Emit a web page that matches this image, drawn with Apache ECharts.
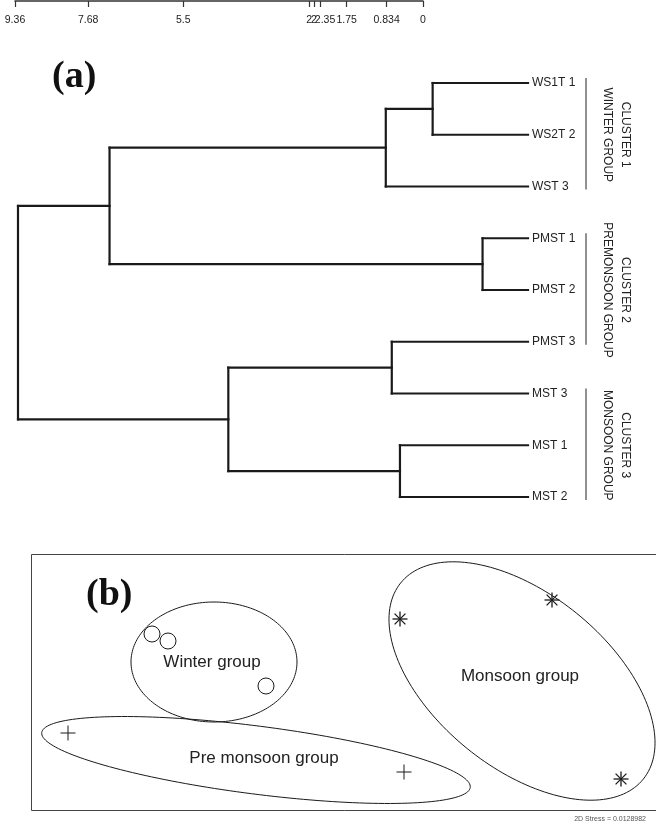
<!DOCTYPE html>
<html>
<head>
<meta charset="utf-8">
<script src="https://cdn.jsdelivr.net/npm/echarts@6/dist/echarts.min.js"></script>
<style>html,body{margin:0;padding:0;background:#fff;}#chart{width:656px;height:827px;}</style>
</head>
<body>
<div id="chart"></div>
<script>
// ---------- Panel (a): dendrogram data ----------
const leaves = ['WS1T 1', 'WS2T 2', 'WST 3', 'PMST 1', 'PMST 2', 'PMST 3', 'MST 3', 'MST 1', 'MST 2'];
const mergeIds    = ['c1', 'c2', 'c3', 'c4', 'c5', 'c6', 'c7', 'c8'];
const mergeLeft   = ['WS1T 1', 'PMST 1', 'MST 1', 'PMST 3', 'c1', 'c4', 'c5', 'c7'];
const mergeRight  = ['WS2T 2', 'PMST 2', 'MST 2', 'MST 3', 'WST 3', 'c3', 'c2', 'c6'];
const mergeHeight = [1.75, 0.834, 2.35, 2.5, 2.61, 5.5, 7.68, 9.36];

const axisTickValues = [9.36, 7.68, 5.5, 2.61, 2.5, 2.35, 1.75, 0.834, 0];
const axisTickLabels = ['9.36', '7.68', '5.5', '2', '2', '2.35', '1.75', '0.834', '0'];

const clusterTitles = ['CLUSTER 1', 'CLUSTER 2', 'CLUSTER 3'];
const clusterNames  = ['WINTER GROUP', 'PREMONSOON GROUP', 'MONSOON GROUP'];
const clusterFirst  = [0, 3, 6];
const clusterLast   = [2, 5, 8];

// ---------- Panel (b): MDS data ----------
const winterX = [1.21, 1.37, 2.35];
const winterY = [1.77, 1.70, 1.25];
const preX = [0.37, 3.73];
const preY = [0.78, 0.39];
const monX = [3.69, 5.21, 5.90];
const monY = [1.92, 2.11, 0.32];

const ellipseCX = [1.83, 2.25, 4.91];
const ellipseCY = [1.49, 0.51, 1.30];
const ellipseA = [0.83, 2.16, 1.56];
const ellipseB = [0.60, 0.34, 0.87];
const ellipseAngle = [0, -7.3, -39];

const groupLabels = ['Winter group', 'Pre monsoon group', 'Monsoon group'];
const groupLabelX = [1.81, 2.33, 4.89];
const groupLabelY = [1.49, 0.53, 1.35];

const stressText = '2D Stress = 0.0128982';

// ---------- build dendrogram segments ----------
const nodePos = {};
leaves.forEach((n, i) => { nodePos[n] = [0, i]; });
const segments = [];
mergeIds.forEach((id, k) => {
  const a = nodePos[mergeLeft[k]], b = nodePos[mergeRight[k]], h = mergeHeight[k];
  segments.push([a[0], a[1], h, a[1]]);
  segments.push([b[0], b[1], h, b[1]]);
  segments.push([h, a[1], h, b[1]]);
  nodePos[id] = [h, (a[1] + b[1]) / 2];
});

const clusterData = clusterTitles.map((t, i) => [clusterFirst[i], clusterLast[i], i]);
const ellipseData = ellipseCX.map((c, i) => [c, ellipseCY[i], ellipseA[i], ellipseB[i], ellipseAngle[i]]);

const LINE = '#1a1a1a';
const SANS = "'Liberation Sans', Arial, sans-serif";

const chart = echarts.init(document.getElementById('chart'), null, {renderer: 'canvas'});

function markerSeries(xs, ys, kind) {
  return {
    type: 'custom', xAxisIndex: 2, yAxisIndex: 2, clip: false, silent: true,
    data: xs.map((x, i) => [x, ys[i]]),
    renderItem: function (params, api) {
      const p = api.coord([api.value(0), api.value(1)]);
      const st = {stroke: LINE, lineWidth: kind === 'star' ? 1.3 : 1, fill: null};
      if (kind === 'circle') {
        return {type: 'circle', shape: {cx: p[0], cy: p[1], r: 8}, style: {stroke: LINE, lineWidth: 1, fill: '#fff'}};
      }
      const r = 7.5;
      const ch = [
        {type: 'line', shape: {x1: p[0] - r, y1: p[1], x2: p[0] + r, y2: p[1]}, style: st},
        {type: 'line', shape: {x1: p[0], y1: p[1] - r, x2: p[0], y2: p[1] + r}, style: st}
      ];
      if (kind === 'star') {
        const d = r * 0.72;
        ch.push({type: 'line', shape: {x1: p[0] - d, y1: p[1] - d, x2: p[0] + d, y2: p[1] + d}, style: st});
        ch.push({type: 'line', shape: {x1: p[0] - d, y1: p[1] + d, x2: p[0] + d, y2: p[1] - d}, style: st});
      }
      return {type: 'group', children: ch};
    }
  };
}

const option = {
  animation: false,
  backgroundColor: '#fff',
  grid: [
    {left: 15, top: 0, width: 408, height: 1, show: false},
    {left: 18, top: 83, width: 510, height: 414, show: false},
    {left: 31, top: 554, width: 625, height: 257, show: false}
  ],
  xAxis: [
    {gridIndex: 0, type: 'value', min: 0, max: 9.36, inverse: true, position: 'bottom',
     axisLine: {show: true, onZero: false, lineStyle: {color: '#333', width: 1.5}},
     axisTick: {show: true, length: 6, customValues: axisTickValues, lineStyle: {color: '#333', width: 1.2}},
     axisLabel: {show: true, customValues: axisTickValues, margin: 14, hideOverlap: false,
       fontFamily: SANS, fontSize: 10.5, color: '#222',
       formatter: function (v) {
         const i = axisTickValues.indexOf(v);
         if (i < 0) return '';
         return i === 5 ? '{s|' + axisTickLabels[i] + '}' : axisTickLabels[i];
       },
       rich: {s: {fontFamily: SANS, fontSize: 10.5, color: '#222', padding: [0, 0, 0, 9]}}},
     splitLine: {show: false}},
    {gridIndex: 1, type: 'value', min: 0, max: 9.36, inverse: true, show: false},
    {gridIndex: 2, type: 'value', min: 0, max: 6.25, show: false}
  ],
  yAxis: [
    {gridIndex: 0, type: 'value', min: 0, max: 1, show: false},
    {gridIndex: 1, type: 'value', min: 0, max: 8, inverse: true, position: 'right',
     axisLine: {show: false}, axisTick: {show: false}, splitLine: {show: false},
     axisLabel: {show: true, customValues: leaves.map((n, i) => i), margin: 4, hideOverlap: false,
       fontFamily: SANS, fontSize: 12, color: '#222',
       formatter: function (v) { return leaves[Math.round(v)] || ''; }}},
    {gridIndex: 2, type: 'value', min: 0, max: 2.57, show: false}
  ],
  graphic: [
    {type: 'polyline', shape: {points: [[700, 554.5], [31.5, 554.5], [31.5, 810.5], [700, 810.5]]},
     style: {stroke: '#444', lineWidth: 1, fill: null}, silent: true},
    {type: 'text', left: 52, top: 58, style: {text: '(a)', font: "bold 38px 'Liberation Serif', 'Times New Roman', serif", fill: '#111'}},
    {type: 'text', left: 86, top: 576, style: {text: '(b)', font: "bold 38px 'Liberation Serif', 'Times New Roman', serif", fill: '#111'}},
    {type: 'text', right: 10, top: 816, style: {text: stressText, font: "7px " + SANS, fill: '#555'}}
  ],
  series: [
    {
      type: 'custom', xAxisIndex: 1, yAxisIndex: 1, clip: false, silent: true,
      data: segments,
      renderItem: function (params, api) {
        const p1 = api.coord([api.value(0), api.value(1)]);
        const p2 = api.coord([api.value(2), api.value(3)]);
        return {type: 'line', shape: {x1: p1[0], y1: p1[1], x2: p2[0], y2: p2[1]},
                style: {stroke: LINE, lineWidth: 2.2, lineCap: 'square'}};
      }
    },
    {
      type: 'custom', xAxisIndex: 1, yAxisIndex: 1, clip: false, silent: true,
      data: clusterData,
      renderItem: function (params, api) {
        const i = api.value(2);
        const a = api.coord([0, api.value(0)]);
        const b = api.coord([0, api.value(1)]);
        const x = a[0] + 58;
        const cy = (a[1] + b[1]) / 2;
        return {type: 'group', children: [
          {type: 'line', shape: {x1: x, y1: a[1] - 5, x2: x, y2: b[1] + 3}, style: {stroke: '#222', lineWidth: 1}},
          {type: 'text', x: x + 39, y: cy, rotation: -Math.PI / 2,
           style: {text: clusterTitles[i], font: '12px ' + SANS, fill: '#222', align: 'center', verticalAlign: 'middle'}},
          {type: 'text', x: x + 21, y: cy, rotation: -Math.PI / 2,
           style: {text: clusterNames[i], font: '12px ' + SANS, fill: '#222', align: 'center', verticalAlign: 'middle'}}
        ]};
      }
    },
    {
      type: 'custom', xAxisIndex: 2, yAxisIndex: 2, clip: false, silent: true,
      data: ellipseData,
      renderItem: function (params, api) {
        const cx = api.value(0), cy = api.value(1), A = api.value(2), B = api.value(3);
        const th = api.value(4) * Math.PI / 180;
        const pts = [];
        for (let k = 0; k < 180; k++) {
          const t = k / 180 * Math.PI * 2;
          const x = cx + A * Math.cos(t) * Math.cos(th) - B * Math.sin(t) * Math.sin(th);
          const y = cy + A * Math.cos(t) * Math.sin(th) + B * Math.sin(t) * Math.cos(th);
          pts.push(api.coord([x, y]));
        }
        return {type: 'polygon', shape: {points: pts}, style: {stroke: LINE, lineWidth: 1, fill: null}};
      }
    },
    markerSeries(winterX, winterY, 'circle'),
    markerSeries(preX, preY, 'plus'),
    markerSeries(monX, monY, 'star'),
    {
      type: 'custom', xAxisIndex: 2, yAxisIndex: 2, clip: false, silent: true,
      data: groupLabels.map((t, i) => [groupLabelX[i], groupLabelY[i], i]),
      renderItem: function (params, api) {
        const p = api.coord([api.value(0), api.value(1)]);
        return {type: 'text', x: p[0], y: p[1],
                style: {text: groupLabels[api.value(2)], font: '17px ' + SANS, fill: '#222', align: 'center', verticalAlign: 'middle'}};
      }
    }
  ]
};
chart.setOption(option);
</script>
</body>
</html>
